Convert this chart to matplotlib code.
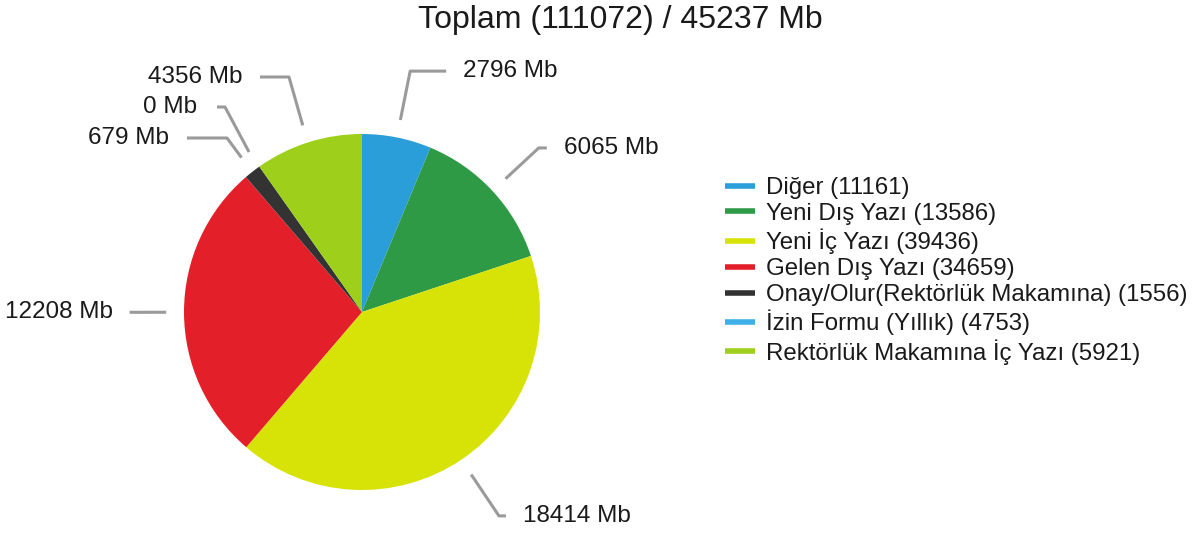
import numpy as np
import matplotlib.pyplot as plt
from matplotlib.lines import Line2D

# --- DATA ----------------------------------------------------------
categories = ["Diğer", "Yeni Dış Yazı", "Yeni İç Yazı", "Gelen Dış Yazı",
              "Onay/Olur(Rektörlük Makamına)", "İzin Formu (Yıllık)",
              "Rektörlük Makamına İç Yazı"]
counts = [11161, 13586, 39436, 34659, 1556, 4753, 5921]
sizes_mb = [2796, 6065, 18414, 12208, 679, 0, 4356]
total_count = 111072
total_mb = 45237
colors = ["#2a9ed8", "#2f9a46", "#d7e307", "#e3202a", "#333333", "#3db0e8", "#9dcf1b"]

# --- LAYOUT (pixel units) ------------------------------------------
W, H = 1203, 537
cx, cy, R = 362, 537 - 312, 178
# per slice: (inner radius, outer radius, horizontal length, text gap)
leaders = {
    0: (1.10, 1.38, 36, 17),
    1: (1.10, 1.355, 8, 17),
    2: (1.10, 1.38, 7, 17),
    3: (1.10, 1.30, -1, 17),
}
# crowded small slices on the left: elbow point given directly (px from top-left)
elbows = {
    4: ((227, 138), -40, 18),
    5: ((225, 107), -8, 20),
    6: ((289, 77), -29, 18),
}

plt.rcParams["font.family"] = ["Liberation Sans", "DejaVu Sans"]
fig = plt.figure(figsize=(W / 100, H / 100), dpi=100)
ax = fig.add_axes([0, 0, 1, 1])

wedges, _ = ax.pie(sizes_mb, colors=colors, startangle=90, counterclock=False,
                   radius=R, center=(cx, cy), wedgeprops=dict(linewidth=0))
ax.set_xlim(0, W)
ax.set_ylim(0, H)
ax.set_aspect("equal")
ax.axis("off")

for i, w in enumerate(wedges):
    ang = np.deg2rad((w.theta1 + w.theta2) / 2)
    x0, y0 = cx + 1.10 * R * np.cos(ang), cy + 1.10 * R * np.sin(ang)
    if i in leaders:
        _, r_out, hlen, gap = leaders[i]
        x1, y1 = cx + r_out * R * np.cos(ang), cy + r_out * R * np.sin(ang)
    else:
        (ex, ey), hlen, gap = elbows[i]
        x1, y1 = ex, H - ey
    x2 = x1 + hlen
    ax.plot([x0, x1, x2], [y0, y1, y1], color="#9a9a9a", lw=2.2, solid_capstyle="butt")
    side = 1 if hlen > 0 else -1
    ax.text(x2 + side * gap, y1, f"{sizes_mb[i]} Mb", fontsize=17.5,
            ha="left" if side > 0 else "right", va="center", color="#1a1a1a")

ax.text(620, H - 20, f"Toplam ({total_count}) / {total_mb} Mb", fontsize=23,
        ha="center", va="center", color="#1a1a1a")

handles = [Line2D([0], [0], color=c, lw=4, solid_capstyle="butt") for c in colors]
labels = [f"{c} ({n})" for c, n in zip(categories, counts)]
fig.legend(handles, labels, loc="upper left", bbox_to_anchor=(713 / W, 1 - 165 / H),
           frameon=False, fontsize=17.3, handlelength=1.25, handletextpad=0.45,
           labelspacing=0.16, borderpad=0, labelcolor="#1a1a1a")

fig.savefig("out.png", dpi=100)
